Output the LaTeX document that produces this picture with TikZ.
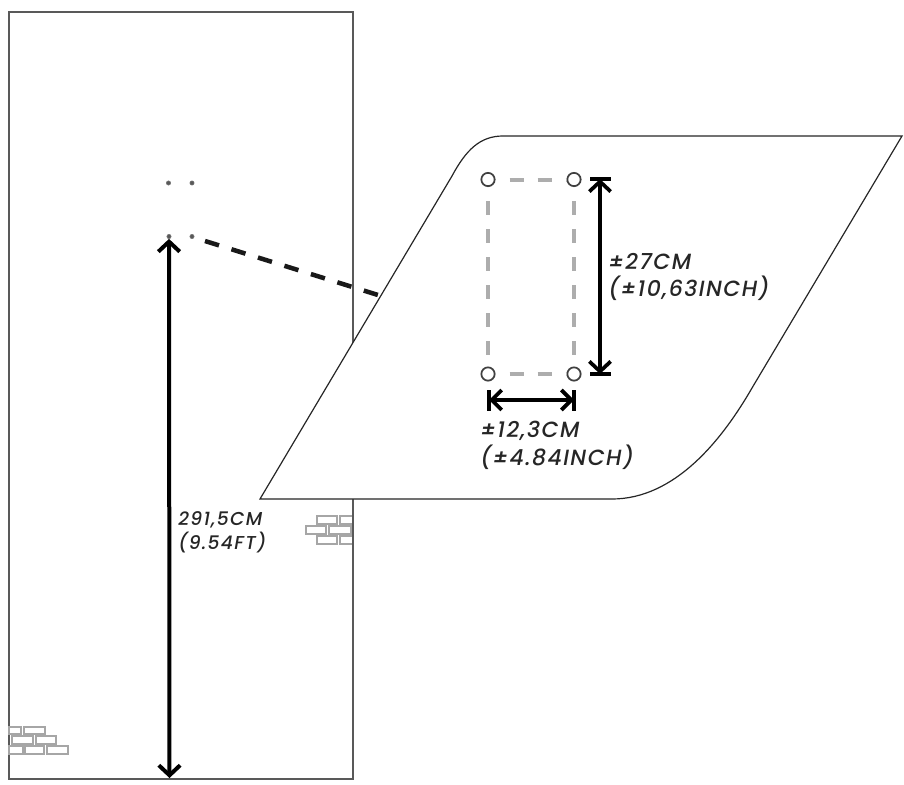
\documentclass[tikz,border=0pt]{standalone}
\usepackage{fontspec}
\setmainfont{Poppins}[ItalicFont={Poppins Medium Italic}]
\usetikzlibrary{arrows.meta}
\tikzset{
  x=0.75pt,y=-0.75pt,
  brick/.style={draw=black!35,line width=1.1pt,fill=white},
  outline/.style={draw=black!65,line width=1.1pt},
  pinhole/.style={circle,draw=black!55,fill=black!65,inner sep=0pt,minimum size=3.2pt},
  ring/.style={circle,draw=black!75,fill=white,line width=1.3pt,inner sep=0pt,minimum size=10pt},
  guide/.style={draw=black!32,line width=3pt,dash pattern=on 10.5pt off 10.5pt,dash phase=10.5pt},
  maindim/.style={draw=black,line width=3pt,{Straight Barb[length=7.5pt,width=16pt,line width=3pt]}-{Straight Barb[length=7.5pt,width=16pt,line width=3pt]}},
  dim/.style={draw=black,line width=2.5pt,{Straight Barb[length=7.5pt,width=16pt,line width=2.8pt]}-{Straight Barb[length=7.5pt,width=16pt,line width=2.8pt]}},
  thindim/.style={draw=black,line width=2.3pt,{Straight Barb[length=7.5pt,width=15pt,line width=2.8pt]}-{Straight Barb[length=7.5pt,width=15pt,line width=2.8pt]}},
  stopbar/.style={draw=black,line width=2.4pt},
  label/.style={font=\itshape\addfontfeatures{LetterSpace=6.5}\fontsize{16.5}{20.6}\selectfont,align=left,anchor=north west,inner sep=0pt,text=black!85},
  smalllabel/.style={font=\itshape\addfontfeatures{LetterSpace=7}\fontsize{14}{18}\selectfont,align=left,anchor=north west,inner sep=0pt,text=black!85}
}
\newcommand{\brk}[4]{\draw[brick] (#1,#2) rectangle (#3,#4);}
\begin{document}
\begin{tikzpicture}
\useasboundingbox (0,0) rectangle (904,785);
% wall
\draw[outline] (9,12) rectangle (353,779);
% bricks bottom left
\brk{9}{727}{21}{734}\brk{24}{727}{45}{734}
\brk{12}{736}{33}{744}\brk{36}{736}{56}{744}
\brk{9}{746}{23}{754}\brk{25}{746}{44}{754}\brk{47}{746}{68}{754}
% bricks right
\brk{317}{516}{337}{524}\brk{340}{516}{353}{524}
\brk{306}{526}{326}{534}\brk{329}{526}{351}{534}
\brk{317}{536}{337}{544}\brk{340}{536}{353}{544}
\draw[outline] (353,500) -- (353,560);
% holes on wall
\node[pinhole] (p1) at (168.5,183) {};
\node[pinhole] (p2) at (192,183) {};
\node[pinhole] (p3) at (169,236.5) {};
\node[pinhole] (p4) at (192,236.5) {};
% main dimension
\coordinate (floor) at (169.5,778);
\draw[maindim] (p3.south) -- (floor);
\node[smalllabel] (hlabel) at (178,511) {291,5CM\\(9.54FT)};
% detail panel
\path[draw=black!85,line width=0.9pt,fill=white]
  (503,136) -- (902,136) -- (752,388)
  .. controls (722,440) and (675,499) .. (612,499)
  -- (260,499) -- (452,176)
  .. controls (466,150) and (480,136) .. (503,136) -- cycle;
% leader
\coordinate (leadend) at (378,295);
\draw[draw=black!90,line width=3.4pt,dash pattern=on 11pt off 9.8pt] (205,241) -- (leadend);
% mount holes
\node[ring] (a) at (488,179.5) {};
\node[ring] (b) at (574,179.5) {};
\node[ring] (c) at (488,374) {};
\node[ring] (d) at (574,374) {};
\draw[guide] (a) -- (b);
\draw[guide] (c) -- (d);
\draw[guide] (a) -- (c);
\draw[guide] (b) -- (d);
% vertical dimension
\coordinate (vt) at (600,179);
\coordinate (vb) at (600,374);
\draw[stopbar] (590,179) -- (611,179);
\draw[stopbar] (590,374) -- (611,374);
\draw[dim] (vt) -- (vb);
\node[label] (vlabel) at (608,253) {±27CM\\(±10,63INCH)};
% horizontal dimension
\coordinate (hl) at (489,400);
\coordinate (hr) at (574,400);
\draw[stopbar] (489,390) -- (489,411);
\draw[stopbar] (574,390) -- (574,411);
\draw[thindim] (hl) -- (hr);
\node[label] (wlabel) at (480,421) {±12,3CM\\(±4.84INCH)};
\end{tikzpicture}
\end{document}
